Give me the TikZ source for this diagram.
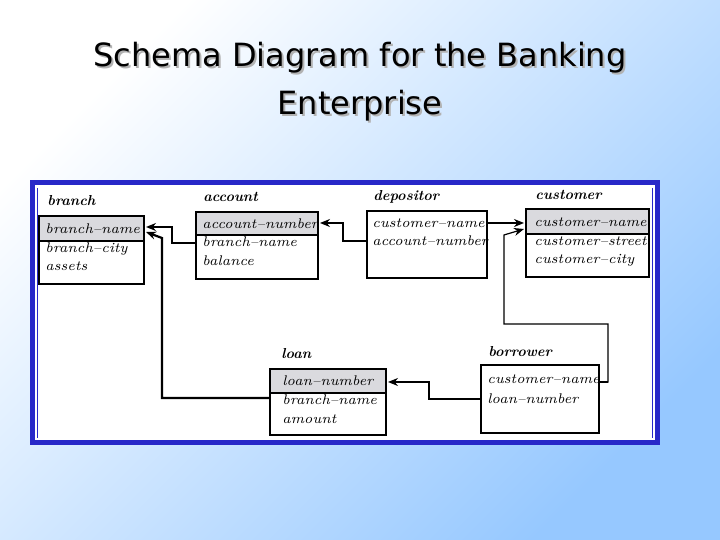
\documentclass[tikz,border=0pt]{standalone}
\usepackage{fontspec}
\newfontfamily\titlefont{DejaVu Sans}
\usetikzlibrary{arrows.meta}
\definecolor{bgblue}{RGB}{150,200,255}
\definecolor{frameblue}{RGB}{40,40,200}
\definecolor{keygray}{RGB}{218,218,222}
\begin{document}
\begin{tikzpicture}[x=0.5pt,y=-0.5pt,
  tname/.style={font=\fontsize{7.2}{9}\selectfont\bfseries\itshape, anchor=base west, inner sep=0},
  attr/.style={font=\fontsize{7}{9}\selectfont\itshape, anchor=base west, inner sep=0},
  box/.style={draw, line width=0.8pt},
  link/.style={line width=1.1pt, -{Stealth[length=5pt,width=4pt]}},
  thinlink/.style={line width=0.6pt, -{Stealth[length=5pt,width=4pt]}}]
\useasboundingbox (0,0) rectangle (720,540);
% background
\shade[left color=white, right color=bgblue, shading angle=45] (0,0) rectangle (720,540);
% title
\node[font=\titlefont\fontsize{16}{24}\selectfont, text=gray!60, align=center] at (362,84) {Schema Diagram for the Banking\\Enterprise};
\node[font=\titlefont\fontsize{16}{24}\selectfont, align=center] (title) at (360,82) {Schema Diagram for the Banking\\Enterprise};
% frame
\fill[white] (33,183) rectangle (658,443);
\draw[frameblue, line width=2.5pt] (33,183) rectangle (658,443);
\draw[frameblue, line width=0.5pt] (38,188) -- (38,438) (653,188) -- (653,438);

% branch
\fill[keygray] (39,216) rectangle (144,241);
\draw[box] (39,216) rectangle (144,284) (39,241) -- (144,241);
\node[tname] (tbranch) at (47,206) {branch};
\node[attr] (bname) at (45,234) {branch--name};
\node[attr] at (45,253) {branch--city};
\node[attr] at (45,271) {assets};

% account
\fill[keygray] (196,212) rectangle (318,235);
\draw[box] (196,212) rectangle (318,279) (196,235) -- (318,235);
\node[tname] at (203,202) {account};
\node[attr] at (202,229) {account--number};
\node[attr] at (202,247) {branch--name};
\node[attr] at (202,266) {balance};

% depositor
\draw[box] (367,211) rectangle (487,278);
\node[tname] at (373,201) {depositor};
\node[attr] at (372,228) {customer--name};
\node[attr] at (372,246) {account--number};

% customer
\fill[keygray] (526,209) rectangle (649,234);
\draw[box, line width=1.3pt] (526,209) rectangle (649,277);
\draw[line width=0.8pt] (526,234) -- (649,234);
\node[tname] at (535,200) {customer};
\node[attr] at (534,227) {customer--name};
\node[attr] at (534,246) {customer--street};
\node[attr] at (534,264) {customer--city};

% loan
\fill[keygray] (270,369) rectangle (386,393);
\draw[box] (270,369) rectangle (386,435) (270,393) -- (386,393);
\node[tname] at (281,359) {loan};
\node[attr] at (282,386) {loan--number};
\node[attr] at (282,405) {branch--name};
\node[attr] at (282,424) {amount};

% borrower
\draw[box] (481,365) rectangle (599,433);
\node[tname] at (488,357) {borrower};
\node[attr] at (487,384) {customer--name};
\node[attr] at (487,404) {loan--number};

% foreign keys
\draw[link] (196,243) -- (172,243) -- (172,227) -- (146,227);
\draw[link] (270,398) -- (162,398) -- (162,238) -- (146,232);
\draw[thinlink] (367,241) -- (343,241) -- (343,223) -- (320,223);
\draw[thinlink] (487,223) -- (524,223);
\draw[thinlink] (599,382) -- (608,382) -- (608,324) -- (504,324) -- (504,235) -- (524,229);
\draw[thinlink] (481,399) -- (429,399) -- (429,382) -- (388,382);
\draw[line width=1.1pt] (599,382) -- (608,382);
\end{tikzpicture}
\end{document}
